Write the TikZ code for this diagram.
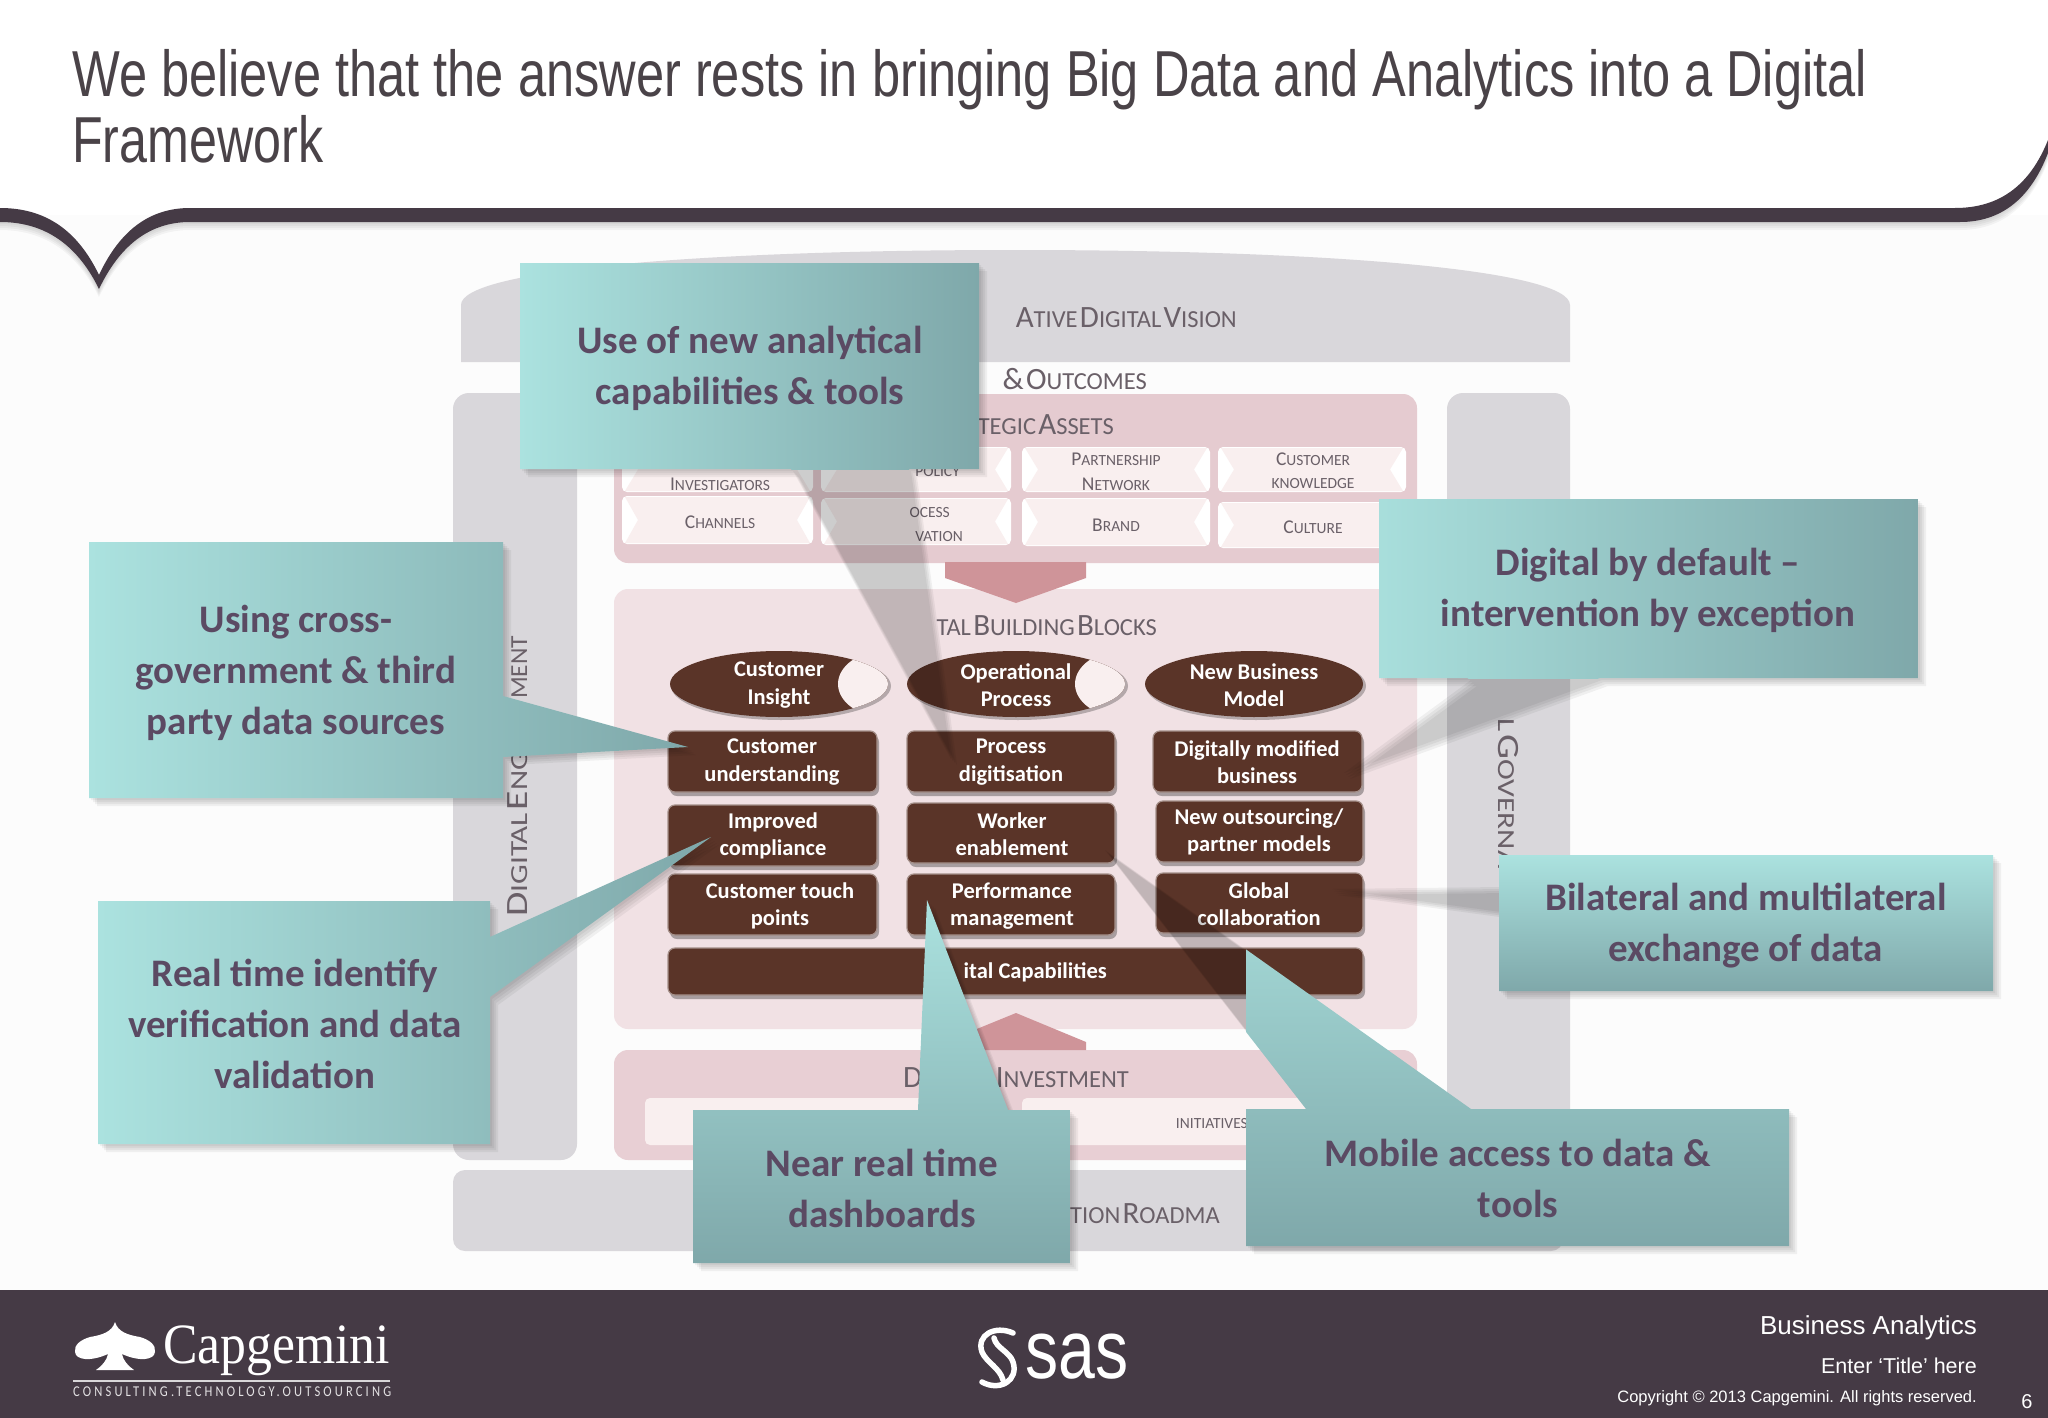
\documentclass[tikz,border=0pt]{standalone}
\usepackage{fontspec}
\setmainfont{Carlito}
\newfontfamily\arialf{Liberation Sans}
\newfontfamily\serf{Liberation Serif}
\usetikzlibrary{shadows}
\definecolor{band}{HTML}{453A45}
\definecolor{pillar}{HTML}{D9D7DB}
\definecolor{assets}{HTML}{E5CBD0}
\definecolor{blocks}{HTML}{F1E1E4}
\definecolor{invest}{HTML}{E8CFD4}
\definecolor{arrowc}{HTML}{CF9499}
\definecolor{brown}{HTML}{5A3428}
\definecolor{tlight}{HTML}{ABE2DF}
\definecolor{tdark}{HTML}{7FA8AA}
\definecolor{calltext}{HTML}{5B4A63}
\definecolor{headtext}{HTML}{6A6068}
\definecolor{cardc}{HTML}{F9EFEF}
\definecolor{titlec}{HTML}{4A4348}
\newcommand\fs[1]{\fontsize{#1}{#1}\selectfont}
% small-cap helpers: \hs heading small, \cs card small
\newcommand\hb[1]{{\fs{31}#1}}
\newcommand\hs[1]{{\fs{24.5}#1}}
\newcommand\cb[1]{{\fs{19.5}#1}}
\newcommand\cs[1]{{\fs{15.5}#1}}
\newcommand\card[8]{% name,x0,y0,x1,y1,labelpos,text
  \fill[white,rounded corners=5pt] (#2,#3) rectangle (#4,#5);
  \fill[cardc] (#2+3,#3+1) -- (#4-3,#3+1) -- (#4-16,{(#3+#5)/2}) -- (#4-3,#5-1) -- (#2+3,#5-1) -- (#2+16,{(#3+#5)/2}) -- cycle;
}
\newcommand\calloutH[7]{% polygon, x0, x1, y0, y1 shading box (horizontal)
  \foreach \dd in {2,4,6,8} {\fill[black,opacity=.05,shift={(\dd,\dd)}] #1;}
  \begin{scope}\clip #1; \shade[left color=tlight,right color=tdark] (#2,#4) rectangle (#3,#5);\end{scope}
}
\newcommand\calloutV[7]{%
  \foreach \dd in {2,4,6,8} {\fill[black,opacity=.05,shift={(\dd,\dd)}] #1;}
  \begin{scope}\clip #1; \shade[top color=tlight,bottom color=tdark] (#2,#4) rectangle (#3,#5);\end{scope}
}
\tikzset{
  calltxt/.style={text=calltext,font=\fs{39}\bfseries,align=center,inner sep=0pt},
  bx/.style={fill=brown,draw=brown!55!white,line width=1.2pt,rounded corners=7pt,drop shadow={shadow xshift=2pt,shadow yshift=-4pt,opacity=.3,fill=black}},
  btxt/.style={text=white,font=\fs{22.5}\bfseries,align=center,inner sep=0pt},
  ctxt/.style={text=headtext,align=center,inner sep=0pt,font=\fs{20}},
  htxt/.style={text=headtext,inner sep=0pt},
}
\begin{document}
\begin{tikzpicture}[x=1pt,y=-1pt]
\useasboundingbox (0,0) rectangle (2048,1418);
\fill[white] (0,0) rectangle (2048,1418);
\fill[black!1] (0,215) rectangle (2048,1292);
% header band
\foreach \dd in {2,4,6,8} {\fill[black,opacity=.04,shift={(0,\dd)}]
 (0,208) .. controls (40,208) and (75,225) .. (99,275) .. controls (120,230) and (150,208) .. (190,208) -- (1955,208) .. controls (2000,208) and (2030,185) .. (2048,140) -- (2048,153) .. controls (2030,200) and (2000,222) .. (1960,222) -- (190,222) .. controls (150,222) and (120,245) .. (99,289) .. controls (75,240) and (40,222) .. (0,222) -- cycle;}
\fill[band]
 (0,208) .. controls (40,208) and (75,225) .. (99,275) .. controls (120,230) and (150,208) .. (190,208) -- (1955,208) .. controls (2000,208) and (2030,185) .. (2048,140) -- (2048,153) .. controls (2030,200) and (2000,222) .. (1960,222) -- (190,222) .. controls (150,222) and (120,245) .. (99,289) .. controls (75,240) and (40,222) .. (0,222) -- cycle;
% title
\node[anchor=base west,inner sep=0pt,text=titlec,font=\arialf\fs{65}] (t1) at (72,97) {\resizebox{1795pt}{\height}{We believe that the answer rests in bringing Big Data and Analytics into a Digital}};
\node[anchor=base west,inner sep=0pt,text=titlec,font=\arialf\fs{65}] (t2) at (72,163) {\resizebox{251pt}{\height}{Framework}};
% backdrop shapes
\fill[pillar] (461,362) -- (461,305) .. controls (461,270) and (700,250) .. (1015,250) .. controls (1330,250) and (1570,270) .. (1570,305) -- (1570,362) -- cycle;
\fill[pillar,rounded corners=16pt] (453,393) rectangle (577,1160);
\fill[pillar,rounded corners=16pt] (1447,393) rectangle (1570,1160);
\fill[pillar,rounded corners=12pt] (453,1170) rectangle (1563,1251);
\fill[assets,rounded corners=14pt] (614,394) rectangle (1417,563);
\fill[blocks,rounded corners=14pt] (614,589) rectangle (1417,1029);
\fill[invest,rounded corners=14pt] (614,1050) rectangle (1417,1160);
\fill[arrowc] (945,562) -- (1086,562) -- (1086,578) -- (1016,603) -- (945,578) -- cycle;
\fill[arrowc] (1016,1013) -- (1086,1042) -- (1086,1050) -- (945,1050) -- (945,1042) -- cycle;
% headings
\node[htxt,anchor=base east] (h1) at (1237,327) {\hb{A}\hs{TIVE} \hb{D}\hs{IGITAL} \hb{V}\hs{ISION}};
\node[htxt,anchor=base east] (h2) at (1147,389) {\hb{\&} \hb{O}\hs{UTCOMES}};
\node[htxt,anchor=base east] (h3) at (1114,434) {\hs{TEGIC} \hb{A}\hs{SSETS}};
\node[htxt,anchor=base east] (h4) at (1157,635) {\hs{TAL} \hb{B}\hs{UILDING} \hb{B}\hs{LOCKS}};
\node[htxt,anchor=base west] (h5) at (903,1087) {\hb{D}};
\node[htxt,anchor=base east] (h6) at (1129,1087) {\hb{I}\hs{NVESTMENT}};
\node[htxt,anchor=base west] (h7) at (1070,1223) {\hs{TION} \hb{R}\hs{OADMA}};
\node[htxt,rotate=90,anchor=base west] (h8) at (527,917) {\resizebox{166pt}{\height}{\hb{D}\hs{IGITAL} \hb{E}\hs{NG}}};
\node[htxt,rotate=90,anchor=base west] (h9) at (527,699) {\resizebox{63pt}{\height}{\hs{MENT}}};
\node[htxt,rotate=-90,anchor=base west] (h10) at (1498,718) {\resizebox{150pt}{\height}{\hs{L} \hb{G}\hs{OVERNA}}};
% cards
\card{c1}{622}{447}{813}{492}{}{}{}
\card{c2}{821}{447}{1011}{492}{}{}{}
\card{c3}{1022}{447}{1210}{492}{}{}{}
\card{c4}{1218}{447}{1406}{492}{}{}{}
\card{c5}{622}{496}{813}{544}{}{}{}
\card{c6}{821}{498}{1011}{545}{}{}{}
\card{c7}{1022}{498}{1210}{546}{}{}{}
\card{c8}{1218}{502}{1406}{548}{}{}{}
\node[ctxt] (t11) at (720,484) {\cb{I}\cs{NVESTIGATORS}};
\node[ctxt,anchor=east] (t12) at (960,472) {\cs{POLICY}};
\node[ctxt] (t13) at (1116,459) {\cb{P}\cs{ARTNERSHIP}};
\node[ctxt] (t14) at (1116,484) {\cb{N}\cs{ETWORK}};
\node[ctxt] (t15) at (1313,459) {\cb{C}\cs{USTOMER}};
\node[ctxt] (t16) at (1313,484) {\cs{KNOWLEDGE}};
\node[ctxt] (t17) at (720,522) {\cb{C}\cs{HANNELS}};
\node[ctxt,anchor=east] (t18) at (950,513) {\cs{OCESS}};
\node[ctxt,anchor=east] (t19) at (963,537) {\cs{VATION}};
\node[ctxt] (t20) at (1116,525) {\cb{B}\cs{RAND}};
\node[ctxt] (t21) at (1313,527) {\cb{C}\cs{ULTURE}};
% ellipses
\foreach \nm/\cx/\bt in {e1/779/1,e2/1016/1,e3/1254/0}{
  \begin{scope}
  \fill[black,opacity=.25] (\cx+2,686) ellipse [x radius=110,y radius=34];
  \path[clip] (\cx,684) ellipse [x radius=109,y radius=33];
  \fill[brown] (\cx-110,640) rectangle (\cx+110,730);
  \ifnum\bt=1 \fill[cardc] (\cx+109,684) ellipse [x radius=50,y radius=34];\fi
  \end{scope}
  \node[inner sep=0pt] (\nm) at (\cx,684) {};
}
\node[btxt] (e1t) at (779,685) {Customer\\[5pt]Insight};
\node[btxt] (e2t) at (1016,685) {Operational\\[5pt]Process};
\node[btxt] (e3t) at (1254,685) {New Business\\[5pt]Model};
% brown boxes
\path[bx] (668,731) rectangle (877,792);
\path[bx] (668,805) rectangle (877,866);
\path[bx] (668,874) rectangle (877,935);
\path[bx] (907,731) rectangle (1115,792);
\path[bx] (907,803) rectangle (1115,863);
\path[bx] (907,874) rectangle (1115,935);
\path[bx] (1153,731) rectangle (1362,792);
\path[bx] (1156,801) rectangle (1363,862);
\path[bx] (1156,873) rectangle (1363,933);
\path[bx] (668,948) rectangle (1363,995);
\node[btxt] (b1) at (772,762) {Customer\\[5pt]understanding};
\node[btxt] (b2) at (773,836) {Improved\\[5pt]compliance};
\node[btxt] (b3) at (780,906) {Customer touch\\[5pt]points};
\node[btxt] (b4) at (1011,762) {Process\\[5pt]digitisation};
\node[btxt] (b5) at (1012,834) {Worker\\[5pt]enablement};
\node[btxt] (b6) at (1012,906) {Performance\\[5pt]management};
\node[btxt] (b7) at (1257,762) {Digitally modified\\[5pt]business};
\node[btxt] (b8) at (1259,832) {New outsourcing/\\[5pt]partner models};
\node[btxt] (b9) at (1259,904) {Global\\[5pt]collaboration};
\node[btxt,anchor=east] (b10) at (1107,972) {ital Capabilities};
\node[ctxt,anchor=east] (t22) at (1248,1124) {\cs{INITIATIVES}};
% white investment cards
\fill[cardc,rounded corners=5pt] (645,1098) rectangle (1005,1145);
\fill[cardc,rounded corners=5pt] (1022,1098) rectangle (1330,1145);
\node[ctxt,anchor=east] (t22b) at (1248,1124) {\cs{INITIATIVES}};
% callouts
\calloutH{(520,263) -- (979,263) -- (979,469) -- (909,469) -- (949,757) -- (791,469) -- (520,469) -- cycle}{520}{979}{263}{469}{}{}
\node[calltxt] (k1) at (750,368) {Use of new analytical\\[12pt]capabilities \& tools};
\calloutH{(89,542) -- (503,542) -- (503,696) -- (688,747) -- (503,757) -- (503,798) -- (89,798) -- cycle}{89}{689}{542}{798}{}{}
\node[calltxt] (k2) at (296,673) {Using cross-\\[12pt]government \& third\\[12pt]party data sources};
\calloutH{(1379,499) -- (1918,499) -- (1918,678) -- (1600,678) -- (1342,771) -- (1469,678) -- (1379,678) -- cycle}{1342}{1918}{499}{678}{}{}
\node[calltxt] (k3) at (1648,590) {Digital by default --\\[12pt]intervention by exception};
\calloutH{(98,901) -- (490,901) -- (490,937) -- (711,837) -- (490,997) -- (490,1144) -- (98,1144) -- cycle}{98}{711}{837}{1144}{}{}
\node[calltxt] (k4) at (295,1024) {Real time identify\\[12pt]verification and data\\[12pt]validation};
\calloutV{(693,1110) -- (918,1110) -- (927,900) -- (1008,1110) -- (1070,1110) -- (1070,1263) -- (693,1263) -- cycle}{693}{1070}{900}{1263}{}{}
\node[calltxt] (k5) at (882,1188) {Near real time\\[12pt]dashboards};
\calloutV{(1246,1109) -- (1306,1109) -- (1103,848) -- (1471,1109) -- (1789,1109) -- (1789,1246) -- (1246,1246) -- cycle}{1246}{1789}{848}{1246}{}{}
\node[calltxt] (k6) at (1518,1178) {Mobile access to data \&\\[12pt]tools};
\calloutV{(1499,855) -- (1993,855) -- (1993,991) -- (1499,991) -- (1499,910) -- (1330,887) -- (1499,885) -- cycle}{1499}{1993}{855}{991}{}{}
\node[calltxt] (k7) at (1746,926) {Bilateral and multilateral\\[12pt]exchange of data};
% footer
\fill[band] (0,1290) rectangle (2048,1418);
% Capgemini logo
\fill[white] (115,1322) .. controls (118,1332) and (128,1335) .. (140,1337) .. controls (150,1340) and (156,1345) .. (155,1352) .. controls (154,1360) and (140,1362) .. (122,1354) .. controls (123,1360) and (128,1366) .. (134,1370) -- (96,1370) .. controls (102,1366) and (107,1360) .. (108,1354) .. controls (90,1362) and (76,1360) .. (75,1352) .. controls (74,1345) and (80,1340) .. (90,1337) .. controls (102,1335) and (112,1332) .. (115,1322) -- cycle;
\node[anchor=base west,inner sep=0pt,text=white,font=\serf\fs{57}] (logo1) at (163,1363) {\resizebox{227pt}{\height}{Capgemini}};
\fill[white,opacity=.8] (73,1380) rectangle (390,1382);
\node[anchor=base west,inner sep=0pt,text=white!85!band,font=\fs{15}] (logo2) at (73,1396) {\resizebox{318pt}{\height}{\addfontfeature{LetterSpace=25}CONSULTING.TECHNOLOGY.OUTSOURCING}};
% sas logo
\draw[white,line width=5.5pt,line cap=round] (1013,1333) .. controls (995,1325) and (976,1335) .. (982,1352) .. controls (986,1362) and (1000,1368) .. (1003,1380);
\draw[white,line width=5.5pt,line cap=round] (982,1382) .. controls (1000,1392) and (1019,1380) .. (1013,1362) .. controls (1010,1352) and (996,1348) .. (994,1338);
\node[anchor=base west,inner sep=0pt,text=white,font=\arialf\fs{83}] (sas) at (1025,1378) {\resizebox{103pt}{\height}{sas}};
% footer text
\node[anchor=base east,inner sep=0pt,text=white,font=\arialf\fs{26}] (f1) at (1977,1334) {Business Analytics};
\node[anchor=base east,inner sep=0pt,text=white,font=\arialf\fs{21.5}] (f2) at (1977,1373) {Enter ‘Title’ here};
\node[anchor=base east,inner sep=0pt,text=white,font=\arialf\fs{16.5}] (f3) at (1977,1402) {Copyright © 2013 Capgemini. All rights reserved.};
\node[anchor=base,inner sep=0pt,text=white,font=\arialf\fs{20}] (f4) at (2027,1408) {6};
\end{tikzpicture}
\end{document}
